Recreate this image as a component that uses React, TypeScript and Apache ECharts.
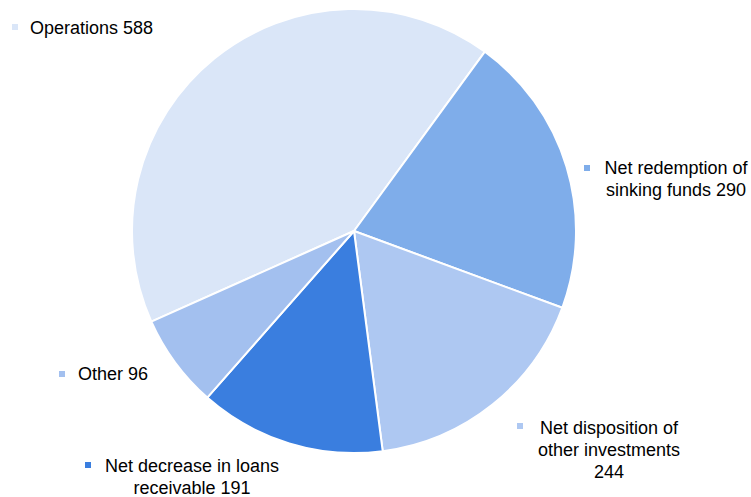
import React, { useEffect, useRef } from "react";
import * as echarts from "echarts";

const categories = [
  "Operations",
  "Net redemption of\nsinking funds",
  "Net disposition of\nother investments\n",
  "Net decrease in loans\nreceivable",
  "Other",
];
const values = [588, 290, 244, 191, 96];
const colors = ["#dae6f8", "#7fadea", "#aec8f2", "#3a7edf", "#a3c0ef"];

// label layout (anchor x, y, align, verticalAlign) and marker positions
const labelPos: [number, number, string, string][] = [
  [30, 28, "left", "middle"],
  [676, 157, "center", "top"],
  [609, 417, "center", "top"],
  [192, 455, "center", "top"],
  [78, 374, "left", "middle"],
];
const markerPos: [number, number][] = [
  [12, 24],
  [584, 165],
  [517, 423],
  [85, 462],
  [59, 371],
];

export default function App() {
  const ref = useRef<HTMLDivElement>(null);
  useEffect(() => {
    if (!ref.current) return;
    const chart = echarts.init(ref.current, undefined, { renderer: "svg" });
    chart.setOption({
      animation: false,
      backgroundColor: "#ffffff",
      series: [
        {
          type: "pie",
          center: [354, 231],
          radius: 222,
          startAngle: 204.1,
          clockwise: true,
          data: categories.map((c, i) => ({
            name: c,
            value: values[i],
            itemStyle: { color: colors[i] },
          })),
          itemStyle: { borderColor: "#ffffff", borderWidth: 2 },
          label: {
            show: true,
            formatter: (p: any) =>
              p.name.endsWith("\n") ? p.name + p.value : p.name + " " + p.value,
            color: "#000000",
            fontFamily: "Liberation Sans, Arial, sans-serif",
            fontSize: 18,
            lineHeight: 22,
            align: "center",
            overflow: "none",
            width: 400,
          },
          labelLine: { show: false },
          labelLayout: (params: any) => {
            const lp = labelPos[params.dataIndex];
            return {
              x: lp[0],
              y: lp[1],
              align: lp[2],
              verticalAlign: lp[3],
              hideOverlap: false,
            };
          },
          emphasis: { disabled: true },
        },
      ],
      graphic: markerPos.map((m, i) => ({
        type: "rect",
        shape: { x: m[0], y: m[1], width: 6, height: 6 },
        style: { fill: colors[i] },
      })),
    });
    return () => chart.dispose();
  }, []);
  return (
    <div
      ref={ref}
      style={{ position: "fixed", left: 0, top: 0, width: 751, height: 497 }}
    />
  );
}
